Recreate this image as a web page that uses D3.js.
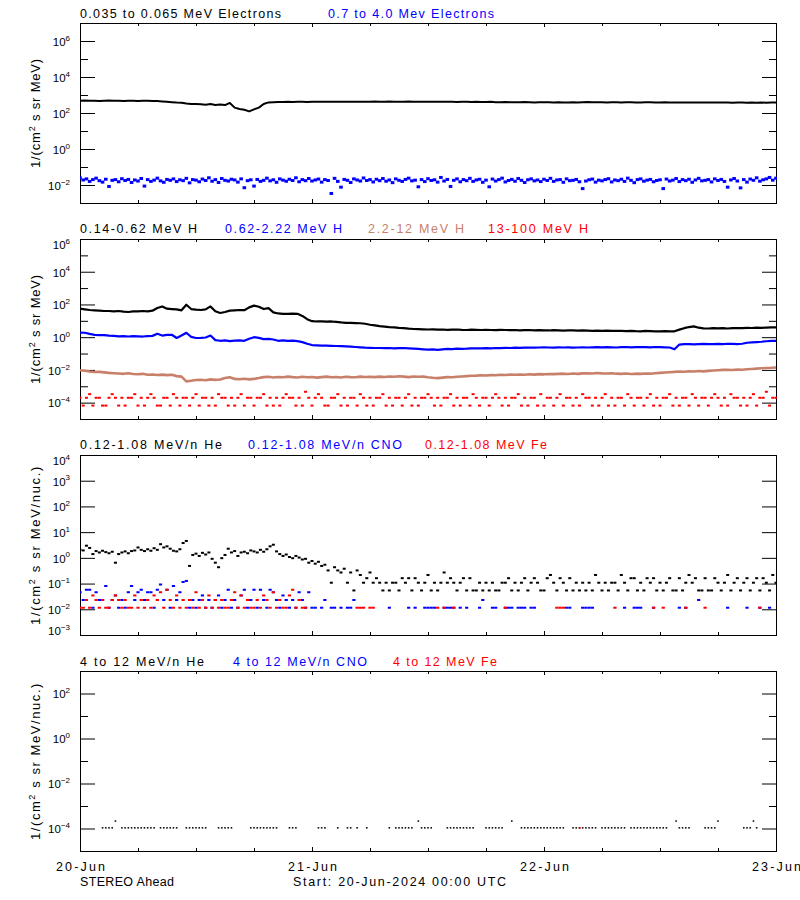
<!DOCTYPE html>
<html><head><meta charset="utf-8">
<script src="https://cdn.jsdelivr.net/npm/d3@7"></script>
<style>
body{margin:0;background:#fff}
svg{display:block}
text{font-family:"Liberation Sans",Arial,sans-serif}
</style>
</head><body>
<svg id="c" width="800" height="900"></svg>
<script>
// ---------------- DATA ----------------
// time: hours after 20-Jun-2024 00:00 UTC
const LINE_STEP = 0.5;     // hours between samples of the line series
const DOT_STEP = 1 / 3;    // hours between samples of the dot series

// Panel 1: 0.035-0.065 MeV electrons, log10 flux, 30-min
const eLowLog = [
2.68,2.69,2.68,2.68,2.67,2.68,2.69,2.68,2.68,2.67,2.68,2.68,
2.67,2.68,2.68,2.67,2.66,2.64,2.62,2.6,2.58,2.57,2.53,2.5,
2.5,2.48,2.46,2.5,2.45,2.47,2.44,2.56,2.3,2.22,2.18,2.09,
2.2,2.3,2.5,2.59,2.6,2.61,2.61,2.62,2.61,2.62,2.62,2.61,
2.62,2.62,2.63,2.62,2.62,2.63,2.62,2.63,2.63,2.62,2.63,2.63,
2.63,2.64,2.63,2.63,2.64,2.63,2.62,2.63,2.64,2.63,2.62,2.63,
2.62,2.62,2.63,2.62,2.63,2.62,2.61,2.62,2.62,2.61,2.62,2.61,
2.61,2.62,2.6,2.6,2.61,2.6,2.6,2.6,2.61,2.6,2.59,2.6,
2.6,2.6,2.59,2.6,2.59,2.59,2.6,2.59,2.6,2.61,2.6,2.6,
2.6,2.59,2.6,2.6,2.59,2.6,2.6,2.59,2.59,2.6,2.6,2.59,
2.59,2.6,2.59,2.59,2.58,2.59,2.59,2.58,2.59,2.58,2.59,2.58,
2.58,2.59,2.58,2.57,2.58,2.58,2.57,2.58,2.57,2.58,2.57,2.58,
2.58];

// Panel 1: 0.7-4.0 MeV electrons, log10 flux, 20-min
const eHighLog = [
-1.6,-1.72,-1.66,-1.8,-1.7,-1.62,-1.76,-1.84,-1.68,-2.08,-1.74,-1.7,-1.82,-1.65,-1.75,-1.69,-1.86,-1.72,
-1.78,-1.64,-2.06,-1.7,-1.8,-1.73,-1.62,-1.77,-1.85,-1.69,-1.74,-1.66,-1.81,-1.71,-1.76,-1.63,-1.88,-1.7,
-1.73,-1.82,-1.67,-1.75,-1.6,-1.79,-1.7,-1.86,-1.64,-1.74,-1.78,-1.68,-1.72,-1.84,-1.66,-2.15,-1.76,-1.71,
-2.06,-1.69,-1.8,-1.74,-1.62,-1.77,-1.71,-1.85,-1.66,-1.73,-1.79,-1.68,-1.75,-1.6,-1.82,-1.7,-1.76,-1.64,
-1.78,-1.72,-1.67,-1.84,-1.7,-1.75,-2.47,-1.63,-1.8,-2.12,-1.69,-1.74,-1.86,-1.66,-1.72,-1.78,-1.61,-1.75,
-1.7,-1.83,-1.68,-1.76,-1.64,-1.79,-1.72,-1.87,-1.66,-1.74,-1.8,-1.69,-1.62,-1.77,-1.73,-2.1,-1.7,-1.81,
-1.65,-1.75,-1.71,-1.84,-1.58,-1.78,-1.69,-2.08,-1.74,-1.66,-1.82,-1.7,-1.76,-1.63,-1.8,-1.72,-1.68,-1.85,
-1.73,-2.1,-1.67,-1.78,-1.7,-1.62,-1.83,-1.75,-1.69,-1.79,-1.64,-1.74,-1.86,-1.71,-1.66,-1.77,-1.72,-1.81,
-1.68,-1.75,-1.63,-1.8,-1.72,-1.7,-1.85,-1.66,-1.76,-1.74,-1.69,-1.82,-2.2,-1.78,-1.71,-1.67,-1.84,-1.73,
-1.77,-1.7,-1.65,-1.83,-1.72,-1.76,-1.68,-1.8,-1.62,-1.74,-1.87,-1.7,-1.66,-1.79,-1.73,-1.69,-1.82,-1.75,
-1.71,-2.2,-1.67,-1.78,-1.73,-1.64,-1.81,-1.7,-1.76,-1.68,-1.85,-1.72,-1.63,-1.77,-1.74,-1.7,-1.83,-1.66,
-1.75,-1.69,-1.8,-2.12,-1.72,-1.64,-1.78,-2.16,-1.7,-1.84,-1.67,-1.74,-1.6,-1.79,-1.71,-1.66,-1.58,-1.73,
-1.62];

// Panel 2: 0.14-0.62 MeV H, log10 flux, 30-min
const hLowLog = [
1.74,1.7,1.66,1.64,1.62,1.6,1.6,1.58,1.6,1.56,1.54,1.58,
1.58,1.6,1.58,1.62,1.78,1.88,1.74,1.72,1.7,1.64,1.98,1.72,
1.68,1.66,1.7,1.88,1.58,1.48,1.54,1.62,1.64,1.66,1.65,1.82,
1.93,1.86,1.72,1.78,1.52,1.45,1.43,1.42,1.44,1.43,1.3,1.1,
0.98,0.96,0.96,0.95,0.96,0.94,0.9,0.88,0.87,0.86,0.85,0.82,
0.76,0.72,0.68,0.65,0.62,0.6,0.57,0.55,0.52,0.5,0.49,0.48,
0.47,0.48,0.46,0.47,0.45,0.46,0.47,0.45,0.44,0.46,0.45,0.44,
0.45,0.44,0.43,0.45,0.44,0.43,0.44,0.42,0.43,0.44,0.42,0.43,
0.42,0.41,0.43,0.42,0.4,0.41,0.42,0.4,0.41,0.4,0.39,0.4,
0.39,0.4,0.38,0.39,0.38,0.37,0.39,0.37,0.36,0.38,0.37,0.36,
0.36,0.37,0.35,0.36,0.46,0.55,0.62,0.66,0.58,0.54,0.53,0.55,
0.54,0.55,0.53,0.55,0.56,0.55,0.57,0.56,0.58,0.57,0.59,0.6,
0.6];

// Panel 2: 0.62-2.22 MeV H, log10 flux, 30-min
const hMidLog = [
0.28,0.27,0.2,0.14,0.12,0.13,0.1,0.08,0.05,0.06,0.04,0.06,
0.05,0.04,0.06,0.08,0.21,0.1,0.14,0.15,-0.05,0.1,0.27,0.02,
-0.05,-0.04,-0.02,0.1,-0.18,-0.22,-0.2,-0.24,-0.21,-0.2,-0.22,-0.1,
0.0,-0.04,-0.12,-0.1,-0.14,-0.22,-0.2,-0.23,-0.21,-0.24,-0.3,-0.4,
-0.48,-0.5,-0.52,-0.52,-0.53,-0.54,-0.55,-0.56,-0.58,-0.6,-0.62,-0.64,
-0.65,-0.66,-0.66,-0.67,-0.66,-0.68,-0.67,-0.66,-0.68,-0.7,-0.72,-0.74,
-0.76,-0.75,-0.77,-0.74,-0.72,-0.73,-0.7,-0.71,-0.7,-0.68,-0.69,-0.68,
-0.67,-0.68,-0.66,-0.67,-0.65,-0.66,-0.64,-0.65,-0.64,-0.63,-0.64,-0.63,
-0.62,-0.63,-0.64,-0.62,-0.63,-0.62,-0.64,-0.63,-0.62,-0.63,-0.62,-0.61,
-0.62,-0.61,-0.62,-0.63,-0.61,-0.6,-0.62,-0.61,-0.6,-0.61,-0.62,-0.6,
-0.61,-0.62,-0.63,-0.74,-0.45,-0.43,-0.42,-0.44,-0.42,-0.41,-0.43,-0.42,
-0.41,-0.42,-0.4,-0.41,-0.42,-0.4,-0.34,-0.32,-0.3,-0.28,-0.25,-0.23,
-0.22];

// Panel 2: 2.2-12 MeV H, log10 flux, 30-min
const hHighLog = [
-2.02,-2.05,-2.1,-2.13,-2.12,-2.15,-2.18,-2.2,-2.22,-2.24,-2.2,-2.25,
-2.27,-2.24,-2.3,-2.28,-2.31,-2.29,-2.32,-2.3,-2.38,-2.41,-2.7,-2.66,
-2.62,-2.6,-2.63,-2.58,-2.61,-2.59,-2.5,-2.45,-2.55,-2.57,-2.54,-2.58,
-2.55,-2.5,-2.44,-2.42,-2.46,-2.43,-2.45,-2.41,-2.44,-2.46,-2.42,-2.45,
-2.43,-2.47,-2.44,-2.41,-2.45,-2.43,-2.46,-2.42,-2.44,-2.45,-2.41,-2.43,
-2.42,-2.44,-2.41,-2.43,-2.4,-2.42,-2.39,-2.41,-2.44,-2.4,-2.42,-2.41,
-2.45,-2.48,-2.5,-2.47,-2.44,-2.45,-2.42,-2.4,-2.38,-2.36,-2.35,-2.33,
-2.34,-2.32,-2.33,-2.3,-2.31,-2.29,-2.3,-2.28,-2.3,-2.27,-2.29,-2.26,
-2.27,-2.25,-2.26,-2.24,-2.23,-2.25,-2.22,-2.24,-2.21,-2.2,-2.22,-2.19,
-2.21,-2.22,-2.2,-2.23,-2.24,-2.22,-2.25,-2.23,-2.24,-2.22,-2.23,-2.2,
-2.18,-2.16,-2.14,-2.12,-2.1,-2.11,-2.08,-2.1,-2.07,-2.09,-2.06,-2.04,
-2.02,-2.0,-1.99,-2.01,-1.98,-1.99,-1.96,-1.94,-1.92,-1.9,-1.88,-1.87,
-1.85];

// Panel 2: 13-100 MeV H, counts per 20-min bin (flux = counts * unit)
const hTopUnit = 6.6e-5;
const hTopCounts = [
3,1,3,5,1,3,3,1,1,3,5,3,1,3,1,3,3,5,
1,3,1,3,5,3,1,1,3,3,1,5,3,1,3,3,1,3,
5,1,3,3,1,3,1,5,3,3,1,3,1,3,5,1,3,3,
1,3,3,5,1,3,1,3,1,3,5,3,3,1,3,1,7,3,
1,3,5,3,1,1,3,3,5,1,3,1,3,3,1,5,3,1,
3,1,3,3,5,1,3,1,3,3,1,3,5,1,3,1,3,3,
5,3,1,3,1,3,3,5,1,3,1,3,3,1,5,3,1,3,
3,1,3,5,3,1,3,1,3,3,5,1,3,1,3,3,1,5,
1,3,3,1,3,5,1,3,3,1,3,1,5,3,3,1,3,1,
3,5,1,3,1,3,3,1,5,3,1,3,3,1,3,5,1,3,
1,3,3,5,1,3,1,3,3,1,5,3,1,3,3,1,3,5,
3,1,3,1,5,3,3,1,3,1,3,5,1,3,3,7,1,3,
3];

// Panel 3: 0.12-1.08 MeV/n He, CNO, Fe counts per 20-min bin
const heUnit = 0.054;
const heCounts = [
38,36,55,45,26,34,30,35,31,28,32,12,26,30,33,28,34,36,
47,38,34,40,35,44,38,63,47,52,42,35,33,40,70,84,9,24,
27,22,29,25,30,17,12,8,18,24,42,30,34,22,30,32,28,36,
33,30,38,32,40,52,60,33,26,22,25,20,18,22,19,16,17,12,
14,11,13,9,10,6,2,8,6,5,7,2,5,1,6,4,2,3,
5,2,3,2,1,2,1,2,2,1,3,2,3,1,3,2,1,2,
4,1,2,1,2,5,2,3,2,1,2,3,1,3,1,1,2,1,
2,1,2,1,1,2,2,3,1,2,1,2,3,1,2,3,2,1,
1,3,4,2,1,3,2,1,3,1,2,1,2,1,2,1,4,2,
1,2,1,2,2,1,4,2,1,3,3,1,2,1,3,2,3,1,
2,1,2,3,1,1,3,1,2,4,2,3,1,1,3,1,1,3,
2,1,2,4,1,2,3,1,2,3,1,2,3,1,3,2,1,4,
2];
const heavyUnit = 0.0115;
const cnoCounts = [
4,2,5,5,1,4,2,2,7,1,2,3,1,2,1,4,7,2,
4,5,2,4,4,1,5,8,2,5,1,7,2,4,10,11,1,2,
1,2,3,1,2,1,2,3,1,2,5,1,2,1,3,5,1,2,
5,1,5,2,1,5,4,2,1,3,2,1,2,1,4,2,1,4,
1,1,0,1,2,0,1,1,0,1,0,1,1,2,0,0,0,0,
0,0,0,0,0,0,1,0,0,0,0,0,1,0,1,0,0,1,
1,1,1,0,0,1,1,1,1,0,1,0,1,0,0,0,1,2,
0,0,1,1,0,0,1,1,1,0,1,1,1,0,1,1,0,0,
0,0,0,0,0,0,0,1,1,0,0,0,1,1,1,1,0,0,
0,0,0,0,0,0,0,1,0,0,1,1,1,0,0,0,1,0,
0,0,0,0,0,0,1,0,1,0,0,0,2,0,0,0,0,0,
0,0,0,1,0,0,0,0,0,1,0,0,0,1,0,0,1,0,
0];
const feCounts = [
1,1,2,1,3,2,1,2,1,1,2,3,2,1,2,1,1,3,
1,2,1,2,1,3,2,4,1,5,2,1,3,1,2,1,2,1,
4,1,2,1,3,1,2,1,2,1,1,2,4,1,3,1,2,1,
1,2,1,3,2,1,4,1,2,1,1,3,5,1,2,1,1,0,
0,0,0,0,0,0,0,0,0,0,0,0,0,0,1,1,1,0,
1,1,0,0,0,0,0,0,0,0,0,0,0,0,0,0,0,0,
0,0,0,1,0,1,0,0,1,0,0,0,0,0,0,0,0,0,
0,0,0,0,0,0,1,0,0,0,0,0,0,0,0,0,0,0,
0,0,0,0,1,1,1,0,0,0,0,0,0,0,0,0,0,0,
0,0,0,0,1,0,0,0,0,0,0,0,0,0,0,0,1,0,
0,1,0,0,0,0,0,0,1,0,0,0,0,0,1,0,0,0,
0,0,0,0,0,0,0,0,0,0,0,0,0,1,0,0,0,0,
0];

// Panel 4: 4-12 MeV/n He counts per 20-min bin; CNO / Fe single events
const he4Unit = 1.07e-4;
const he4Counts = [
0,0,0,0,0,0,0,1,1,1,1,2,0,1,1,1,1,1,
1,1,1,1,1,1,0,1,1,1,1,1,1,0,0,1,1,1,
1,1,1,1,0,0,0,1,1,1,1,1,0,0,0,0,0,1,
1,1,1,1,1,1,1,1,0,0,0,1,1,1,0,0,0,0,
0,0,1,1,1,0,0,0,1,0,0,1,1,0,1,0,0,1,
0,0,0,0,0,0,1,0,1,1,1,1,1,1,0,2,1,1,
1,1,0,0,0,0,1,1,1,1,1,1,1,1,1,0,0,0,
1,1,1,1,1,1,0,0,2,0,0,1,1,1,1,1,1,1,
1,1,1,1,1,1,1,0,0,1,1,1,1,1,1,1,1,0,
1,1,1,1,1,1,1,1,0,1,1,1,1,1,1,1,1,1,
1,1,1,0,0,2,1,1,1,1,0,0,0,0,1,1,1,1,
2,0,0,0,0,0,0,0,1,1,1,2,1,0,0,0,0,0,
0];
const cno4Hours = [];
const cno4Counts = [];
const fe4Hours = [51.7];
const fe4Counts = [1];

// Text
const panelTitles = [
  ["0.035 to 0.065 MeV Electrons", "0.7 to 4.0 Mev Electrons"],
  ["0.14-0.62 MeV H", "0.62-2.22 MeV H", "2.2-12 MeV H", "13-100 MeV H"],
  ["0.12-1.08 MeV/n He", "0.12-1.08 MeV/n CNO", "0.12-1.08 MeV Fe"],
  ["4 to 12 MeV/n He", "4 to 12 MeV/n CNO", "4 to 12 MeV Fe"]
];
const yTitles = ["MeV)", "MeV)", "MeV/nuc.)", "MeV/nuc.)"];
// y-axis decades: [min exp, max exp], labelled exps, minor exps
const yDomains = [[-3, 7], [-5, 6], [-3, 4], [-5, 3]];
const yMajor = [[6, 4, 2, 0, -2], [6, 4, 2, 0, -2, -4], [4, 3, 2, 1, 0, -1, -2, -3], [2, 0, -2, -4]];
const yMinor = [[5, 3, 1, -1], [5, 3, 1, -1, -3], [], [1, -1, -3]];
const dayHours = [0, 24, 48, 72];
const dayLabels = ["20-Jun", "21-Jun", "22-Jun", "23-Jun"];
const sixHourTicks = [6, 12, 18, 30, 36, 42, 54, 60, 66];
const footerLeft = "STEREO Ahead";
const footerMid = "Start: 20-Jun-2024 00:00 UTC";

// ---------------- LAYOUT / STYLE ----------------
const BLACK = "#000000", BLUE = "#0000ff", RED = "#ff0000", BROWN = "#c9806a";
const titleColors = [[BLACK, BLUE], [BLACK, BLUE, BROWN, RED], [BLACK, BLUE, RED], [BLACK, BLUE, RED]];
const titleSpans = [[[80, 281], [328, 494]], [[80, 197], [225, 342], [368, 464], [488, 588]],
                    [[80, 222], [248, 402], [425, 547]], [[80, 204], [233, 367], [393, 497]]];
const titleBase = [18.3, 233.4, 449, 665.6];
const panelTop = [23, 239, 455, 671];
const PH = 180;
const yTitleLen = [110, 110, 160, 158];

const svg = d3.select("#c");
const x = d3.scaleLinear().domain([0, 72]).range([80, 776]);

const ys = panelTop.map((t, i) =>
  d3.scaleLog().domain([10 ** yDomains[i][0], 10 ** yDomains[i][1]]).range([t + PH, t]));

// clip paths
const defs = svg.append("defs");
panelTop.forEach((t, i) => {
  defs.append("clipPath").attr("id", "clip" + i)
    .append("rect").attr("x", 80).attr("y", t).attr("width", 697).attr("height", PH + 1);
});

function sup(e) { return e < 0 ? "\u2212" + (-e) : String(e); }

panelTop.forEach((top, i) => {
  const y = ys[i];
  const g = svg.append("g");
  // frame
  g.append("rect").attr("x", 80.5).attr("y", top + 0.5).attr("width", 696).attr("height", PH)
    .attr("fill", "none").attr("stroke", BLACK).attr("stroke-width", 1);

  const clean = sel => { sel.select(".domain").remove(); sel.selectAll("text").remove(); sel.attr("color", BLACK); };
  const maj = yMajor[i].map(e => 10 ** e), mnr = yMinor[i].map(e => 10 ** e);
  g.append("g").attr("transform", "translate(80,0)")
    .call(d3.axisLeft(y).tickValues(maj).tickSize(-15).tickFormat("")).call(clean);
  g.append("g").attr("transform", "translate(777,0)")
    .call(d3.axisRight(y).tickValues(maj).tickSize(-15).tickFormat("")).call(clean);
  if (mnr.length) {
    g.append("g").attr("transform", "translate(80,0)")
      .call(d3.axisLeft(y).tickValues(mnr).tickSize(-8).tickFormat("")).call(clean);
    g.append("g").attr("transform", "translate(777,0)")
      .call(d3.axisRight(y).tickValues(mnr).tickSize(-8).tickFormat("")).call(clean);
  }
  // time ticks top and bottom
  g.append("g").attr("transform", `translate(0,${top})`)
    .call(d3.axisTop(x).tickValues([24, 48]).tickSize(-4).tickFormat("")).call(clean);
  g.append("g").attr("transform", `translate(0,${top})`)
    .call(d3.axisTop(x).tickValues(sixHourTicks).tickSize(-3).tickFormat("")).call(clean);
  g.append("g").attr("transform", `translate(0,${top + PH})`)
    .call(d3.axisBottom(x).tickValues([24, 48]).tickSize(-4).tickFormat("")).call(clean);
  g.append("g").attr("transform", `translate(0,${top + PH})`)
    .call(d3.axisBottom(x).tickValues(sixHourTicks).tickSize(-3).tickFormat("")).call(clean);

  // y tick labels 10^n
  yMajor[i].forEach(e => {
    let yy = y(10 ** e) + 0.5 + 4.3;
    if (e === yDomains[i][1]) yy += 5;
    if (e === yDomains[i][0]) yy -= 5;
    const t = g.append("text").attr("x", 70).attr("y", yy).attr("text-anchor", "end").attr("fill", BLACK);
    t.append("tspan").attr("font-size", 11.5).text("10");
    t.append("tspan").attr("font-size", 8).attr("dy", -5.2).text(sup(e));
  });

  // y axis title
  const cy = top + PH / 2;
  const yt = g.append("text").attr("transform", `translate(39.5,${cy}) rotate(-90)`)
    .attr("text-anchor", "middle").attr("font-size", 13).attr("letter-spacing", 0.9).attr("fill", BLACK);
  yt.append("tspan").text("1/(cm");
  yt.append("tspan").attr("font-size", 9).attr("dy", -5).text("2");
  yt.append("tspan").attr("dy", 5).text(" s sr " + yTitles[i]);
  const L = yt.node().getComputedTextLength();
  const nChars = ("1/(cm2 s sr " + yTitles[i]).length;
  yt.attr("letter-spacing", 0.9 + (yTitleLen[i] - L) / nChars);

  // titles
  panelTitles[i].forEach((s, k) => {
    const [a, b] = titleSpans[i][k];
    g.append("text").attr("x", a).attr("y", titleBase[i]).attr("font-size", 12.5)
      .attr("fill", titleColors[i][k]).attr("textLength", b - a).attr("lengthAdjust", "spacing").text(s);
  });
});

// ---------------- MARKS ----------------
function lineSeries(i, logs, step, color, width) {
  const y = ys[i];
  const pts = logs.map((v, k) => [k * step, 10 ** v]);
  svg.append("path").attr("clip-path", `url(#clip${i})`)
    .attr("d", d3.line().x(d => x(d[0])).y(d => y(d[1]))(pts))
    .attr("fill", "none").attr("stroke", color).attr("stroke-width", width)
    .attr("stroke-linejoin", "round");
}
function dotSeries(i, pts, color, w, h) {
  const y = ys[i];
  svg.append("g").attr("clip-path", `url(#clip${i})`).selectAll("rect")
    .data(pts.filter(d => d[1] > 0)).join("rect")
    .attr("x", d => x(d[0]) - w / 2).attr("y", d => y(d[1]) - h / 2)
    .attr("width", w).attr("height", h).attr("fill", color);
}
const fromLogs = (logs, step) => logs.map((v, k) => [k * step, 10 ** v]);
const fromCounts = (counts, step, unit) => counts.map((c, k) => [k * step, c * unit]);

// Panel 1
lineSeries(0, eLowLog, LINE_STEP, BLACK, 2);
dotSeries(0, fromLogs(eHighLog, DOT_STEP), BLUE, 3.6, 3);
// Panel 2
lineSeries(1, hLowLog, LINE_STEP, BLACK, 2.2);
lineSeries(1, hMidLog, LINE_STEP, BLUE, 2.2);
lineSeries(1, hHighLog, LINE_STEP, BROWN, 2.6);
dotSeries(1, fromCounts(hTopCounts, DOT_STEP, hTopUnit), RED, 3, 2);
// Panel 3
dotSeries(2, fromCounts(heCounts, DOT_STEP, heUnit), BLACK, 3, 2);
dotSeries(2, fromCounts(cnoCounts, DOT_STEP, heavyUnit), BLUE, 3.2, 2);
dotSeries(2, fromCounts(feCounts, DOT_STEP, heavyUnit), RED, 3.2, 2);
// Panel 4
dotSeries(3, fromCounts(he4Counts, DOT_STEP, he4Unit), BLACK, 1.6, 1.5);
dotSeries(3, cno4Hours.map((t, k) => [t, cno4Counts[k] * he4Unit]), BLUE, 2, 1.5);
dotSeries(3, fe4Hours.map((t, k) => [t, fe4Counts[k] * he4Unit]), RED, 2, 1.5);

// ---------------- BOTTOM LABELS ----------------
dayHours.forEach((h, k) => {
  svg.append("text").attr("x", x(h) + 0.5).attr("y", 870.8).attr("text-anchor", "middle").attr("fill", BLACK)
    .attr("font-size", 12.5).attr("textLength", 49).attr("lengthAdjust", "spacing").text(dayLabels[k]);
});
svg.append("text").attr("x", 80).attr("y", 885.8).attr("font-size", 12.5).attr("fill", BLACK)
  .attr("textLength", 94).attr("lengthAdjust", "spacing").text(footerLeft);
svg.append("text").attr("x", 293).attr("y", 885.8).attr("font-size", 12.5).attr("fill", BLACK)
  .attr("textLength", 213).attr("lengthAdjust", "spacing").text(footerMid);
</script>
</body></html>
